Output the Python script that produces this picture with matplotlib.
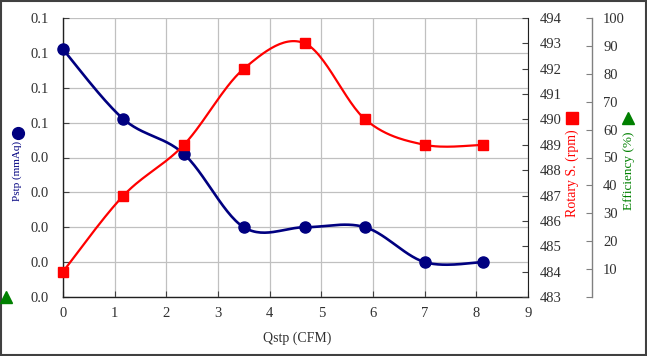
import numpy as np
import matplotlib
matplotlib.use("Agg")
import matplotlib.pyplot as plt
from matplotlib.lines import Line2D
from matplotlib.patches import Rectangle

plt.rcParams['font.family'] = ['Liberation Serif', 'DejaVu Serif']
plt.rcParams['font.size'] = 10.5

# data
qstp = [0, 1.17, 2.34, 3.5, 4.68, 5.85, 7.0, 8.13]
pstp = [0.071, 0.051, 0.041, 0.020, 0.020, 0.020, 0.010, 0.010]
rpm = [484.0, 487.0, 489.0, 492.0, 493.0, 490.0, 489.0, 489.0]

x_ticks = list(range(0, 10))
p_ticks = [0.00, 0.01, 0.02, 0.03, 0.04, 0.05, 0.06, 0.07, 0.08]
p_labels = ['0.0', '0.0', '0.0', '0.0', '0.0', '0.1', '0.1', '0.1', '0.1']
rpm_ticks = list(range(483, 495))
eff_ticks = list(range(0, 101, 10))
eff_labels = [''] + [str(v) for v in eff_ticks[1:]]

navy = '#000080'
red = '#ff0000'
green = '#008000'


def smooth(xs, ys, xr, yr, w=465.0, h=279.0, n=30):
    # Excel-style smoothed line: cubic Bezier through the points,
    # computed in (approximate) pixel space
    px = np.array(xs) / xr * w
    py = (np.array(ys) - yr[0]) / (yr[1] - yr[0]) * h
    P = np.column_stack([px, py])
    P = np.vstack([P[0], P, P[-1]])
    out = []
    t = np.linspace(0, 1, n)[:, None]
    for i in range(1, len(P) - 2):
        p0, p1, p2, p3 = P[i - 1], P[i], P[i + 1], P[i + 2]
        c1 = p1 + (p2 - p0) / 6.0
        c2 = p2 - (p3 - p1) / 6.0
        seg = ((1 - t) ** 3) * p1 + 3 * ((1 - t) ** 2) * t * c1 \
            + 3 * (1 - t) * t ** 2 * c2 + t ** 3 * p2
        out.append(seg)
    out = np.vstack(out)
    return out[:, 0] / w * xr, out[:, 1] / h * (yr[1] - yr[0]) + yr[0]


fig = plt.figure(figsize=(6.47, 3.56), dpi=100)
ax = fig.add_axes([63 / 647, 1 - 297 / 356, 465 / 647, 279 / 356])

ax.set_xlim(0, 9)
ax.set_ylim(0, 0.08)
ax.set_xticks(x_ticks)
ax.set_yticks(p_ticks)
ax.set_yticklabels(p_labels)
ax.grid(True, color='#c0c0c0', lw=0.9)
ax.set_axisbelow(True)
ax.tick_params(axis='both', direction='in', length=4, colors='#404040',
               labelcolor='#303030')
ax.tick_params(axis='y', pad=10)
ax.tick_params(axis='x', pad=7)
ax.spines['top'].set_visible(False)
ax.spines['right'].set_visible(False)
for s in ['left', 'bottom']:
    ax.spines[s].set_color('#202020')
    ax.spines[s].set_linewidth(1.0)

sx, sy = smooth(qstp, pstp, 9, (0, 0.08))
ax.plot(sx, sy, color=navy, lw=1.9, zorder=3)
ax.plot(qstp, pstp, 'o', color=navy, ms=8, zorder=4, clip_on=False)

ax2 = ax.twinx()
ax2.set_ylim(483, 494)
ax2.set_yticks(rpm_ticks)
ax2.tick_params(axis='y', direction='in', length=4, colors='#404040',
                labelcolor='#303030', pad=8.5)
for s in ['left', 'top', 'bottom']:
    ax2.spines[s].set_visible(False)
ax2.spines['right'].set_color('#202020')
rx, ry = smooth(qstp, rpm, 9, (483, 494))
ax2.plot(rx, ry, color=red, lw=1.6, zorder=3)
ax2.plot(qstp, rpm, 's', color=red, ms=7.5, zorder=4, clip_on=False)

ax3 = ax.twinx()
ax3.set_ylim(0, 100)
ax3.set_yticks(eff_ticks)
ax3.set_yticklabels(eff_labels)
ax3.spines['right'].set_position(('axes', 529 / 465))
for s in ['left', 'top', 'bottom']:
    ax3.spines[s].set_visible(False)
ax3.spines['right'].set_color('#808080')
ax3.spines['right'].set_linewidth(1.0)
ax3.tick_params(axis='y', direction='in', length=4, colors='#808080',
                labelcolor='#303030', pad=8)

# axis titles and their legend markers
fig.text(297 / 647, 1 - 338 / 356, 'Qstp (CFM)', ha='center', va='center',
         color='#303030', fontsize=10)
fig.text(17.5 / 647, 1 - 171 / 356, 'Pstp (mmAq)', rotation=90, ha='center',
         va='center', color=navy, fontsize=8)
fig.text(572 / 647, 1 - 173 / 356, 'Rotary S. (rpm)', rotation=90,
         ha='center', va='center', color=red, fontsize=10)
fig.text(629 / 647, 1 - 171 / 356, 'Efficiency (%)', rotation=90,
         ha='center', va='center', color=green, fontsize=9.5)

fig.add_artist(Line2D([18 / 647], [1 - 133 / 356], marker='o', color=navy,
                      ms=8.5, transform=fig.transFigure))
fig.add_artist(Line2D([572 / 647], [1 - 118 / 356], marker='s', color=red,
                      ms=8.5, transform=fig.transFigure))
fig.add_artist(Line2D([628 / 647], [1 - 118 / 356], marker='^', color=green,
                      ms=8.5, transform=fig.transFigure))
fig.add_artist(Line2D([6 / 647], [1 - 297 / 356], marker='^', color=green,
                      ms=8.5, transform=fig.transFigure))

fig.add_artist(Rectangle((0.001, 0.002), 0.997, 0.995, fill=False,
                         edgecolor='#404040', lw=1.5,
                         transform=fig.transFigure))

fig.savefig('out.png', dpi=100)
